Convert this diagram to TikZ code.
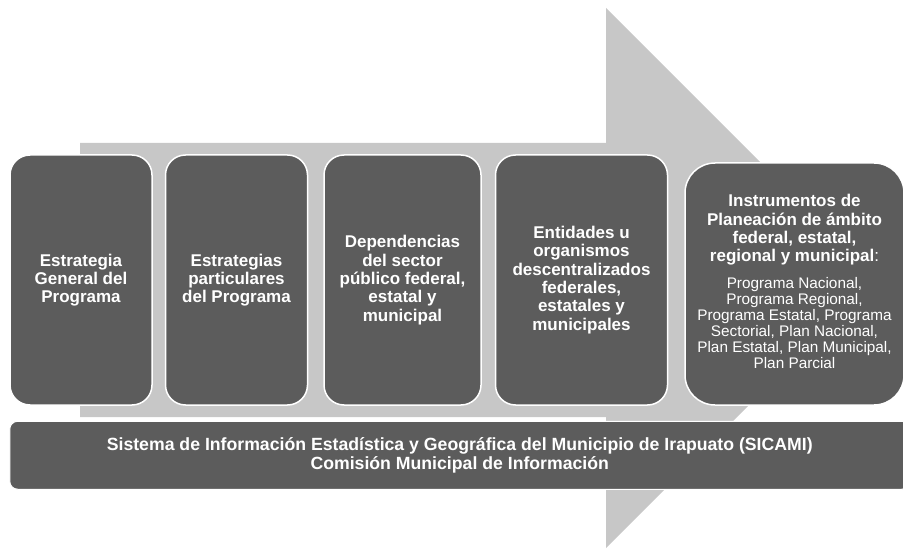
\documentclass[tikz,border=0pt]{standalone}
\usepackage{fontspec}
\setmainfont{Liberation Sans}
\usetikzlibrary{positioning}

\newlength\px
\setlength\px{0.75pt}

\begin{document}
\begin{tikzpicture}[
  x=0.75pt, y=-0.75pt,
  node distance=14\px,
  etapa/.style={draw=white, line width=1.5\px, fill=black!64, rounded corners=20\px,
                minimum height=250\px, text=white, align=center, inner sep=2\px,
                font=\fontsize{12.75}{13.75}\selectfont\bfseries},
  instrumento/.style={etapa, rounded corners=30\px, minimum height=242\px},
  barra/.style={draw=white, line width=1\px, fill=black!64, rounded corners=8\px,
                minimum height=68\px, minimum width=900\px, text=white, align=center,
                font=\fontsize{13.25}{14.25}\selectfont\bfseries},
  flecha/.style={fill=black!22}
]
\useasboundingbox (0,0) rectangle (903,549);

% big arrow behind the stages
\fill[flecha] (80,143) -- (606,143) -- (606,8) -- (876,278) -- (606,548)
  -- (606,417) -- (80,417) -- cycle;

\node[etapa, minimum width=142\px] (b1) at (81,280) {Estrategia\\General del\\Programa};
\node[etapa, minimum width=142\px, right=12\px of b1] (b2) {Estrategias\\particulares\\del Programa};
\node[etapa, minimum width=157\px, right=15\px of b2] (b3) {Dependencias\\del sector\\público federal,\\estatal y\\municipal};
\node[etapa, minimum width=172\px, right=13\px of b3] (b4) {Entidades u\\organismos\\descentralizados\\federales,\\estatales y\\municipales};
\node[instrumento, minimum width=219\px, right=16\px of b4, yshift=-4\px] (b5)
  {\fontsize{12.75}{12.5}\selectfont Instrumentos de\\Planeación de ámbito\\federal, estatal,\\regional y municipal{\mdseries:}\\[11\px]
   \mdseries\fontsize{11.5}{12}\selectfont
   \begin{tabular}{@{}c@{}}Programa Nacional,\\Programa Regional,\\Programa Estatal, Programa\\Sectorial, Plan Nacional,\\Plan Estatal, Plan Municipal,\\Plan Parcial\end{tabular}};

\node[barra, below=15\px of b1.south west, anchor=north west] (sicami)
  {Sistema de Información Estadística y Geográfica del Municipio de Irapuato (SICAMI)\\Comisión Municipal de Información};
\end{tikzpicture}
\end{document}
